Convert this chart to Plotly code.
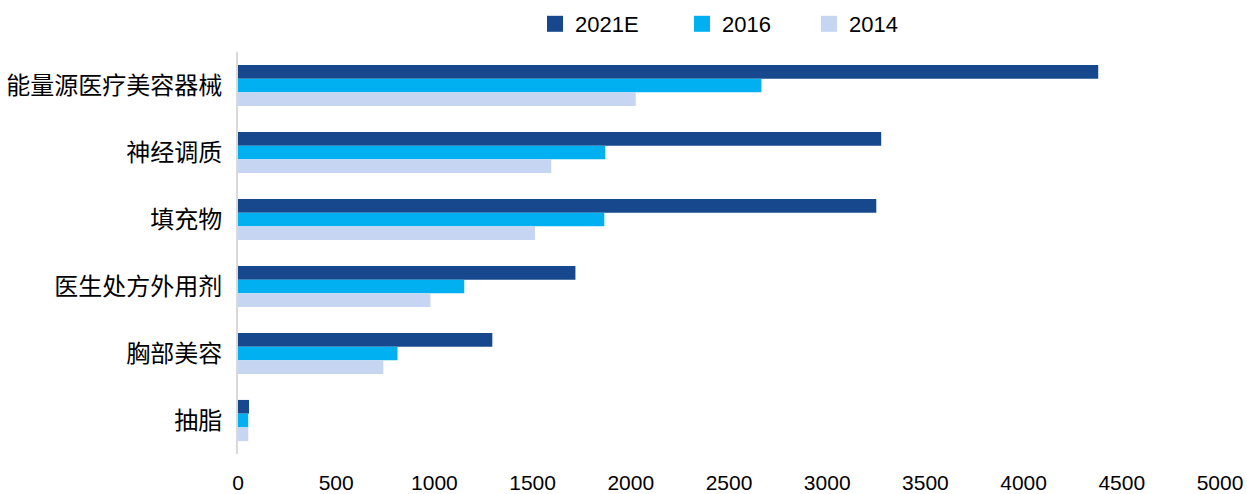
import plotly.graph_objects as go

categories = ["能量源医疗美容器械", "神经调质", "填充物", "医生处方外用剂", "胸部美容", "抽脂"]
series_names = ["2021E", "2016", "2014"]
values_2021E = [4380, 3275, 3250, 1718, 1295, 56]
values_2016 = [2665, 1870, 1865, 1152, 812, 52]
values_2014 = [2025, 1595, 1512, 980, 740, 52]
x_ticks = [0, 500, 1000, 1500, 2000, 2500, 3000, 3500, 4000, 4500, 5000]

colors = ["#17488D", "#00B0F0", "#C5D5F2"]
series_values = [values_2021E, values_2016, values_2014]

W, H = 1247, 494
fig = go.Figure()
for name, vals, col in zip(series_names, series_values, colors):
    fig.add_trace(go.Bar(
        y=categories, x=vals, name=name, orientation="h",
        marker=dict(color=col, line=dict(width=0)), showlegend=False,
    ))

legend_names = ["legend", "legend2", "legend3"]
marker_centers = [556, 703, 830]
for name, col, lg in zip(series_names, colors, legend_names):
    fig.add_trace(go.Scatter(
        x=[None], y=[None], mode="markers", name=name,
        marker=dict(symbol="square", size=16, color=col),
        showlegend=True, legend=lg,
    ))

legend_common = dict(
    orientation="h", xref="container", yref="container",
    xanchor="left", yanchor="middle", y=1 - 24 / H,
    font=dict(family="Liberation Sans, Arial", size=22, color="#000000"),
    bgcolor="rgba(0,0,0,0)", borderwidth=0, itemwidth=30,
)
layout_legends = {}
for lg, mc in zip(legend_names, marker_centers):
    layout_legends[lg] = dict(legend_common, x=(mc - 21) / W)

fig.update_layout(
    width=W, height=H,
    barmode="group", bargap=0.386, bargroupgap=0,
    plot_bgcolor="white", paper_bgcolor="white",
    margin=dict(l=238, r=27, t=52, b=40, autoexpand=False),
    font=dict(family="Liberation Sans, Arial", color="#000000"),
    **layout_legends,
)
fig.update_xaxes(
    range=[0, 5000], tickvals=x_ticks, ticktext=[str(t) for t in x_ticks],
    showgrid=False, zeroline=False, showline=False, automargin=False,
    ticks="outside", ticklen=10, tickcolor="rgba(0,0,0,0)",
    tickfont=dict(family="Liberation Sans, Arial", size=21, color="#000000"),
)
fig.update_yaxes(
    autorange="reversed", showgrid=False, zeroline=False, automargin=False,
    showline=True, linecolor="#D9D9D9", linewidth=2,
    ticks="outside", ticklen=9, tickcolor="rgba(0,0,0,0)",
    tickfont=dict(family="Noto Sans CJK SC", size=24, color="#000000"),
)
fig.write_html(
    "out.html",
    config={"displayModeBar": False},
    post_script="document.body.style.margin='0';document.body.style.overflow='hidden';",
)
